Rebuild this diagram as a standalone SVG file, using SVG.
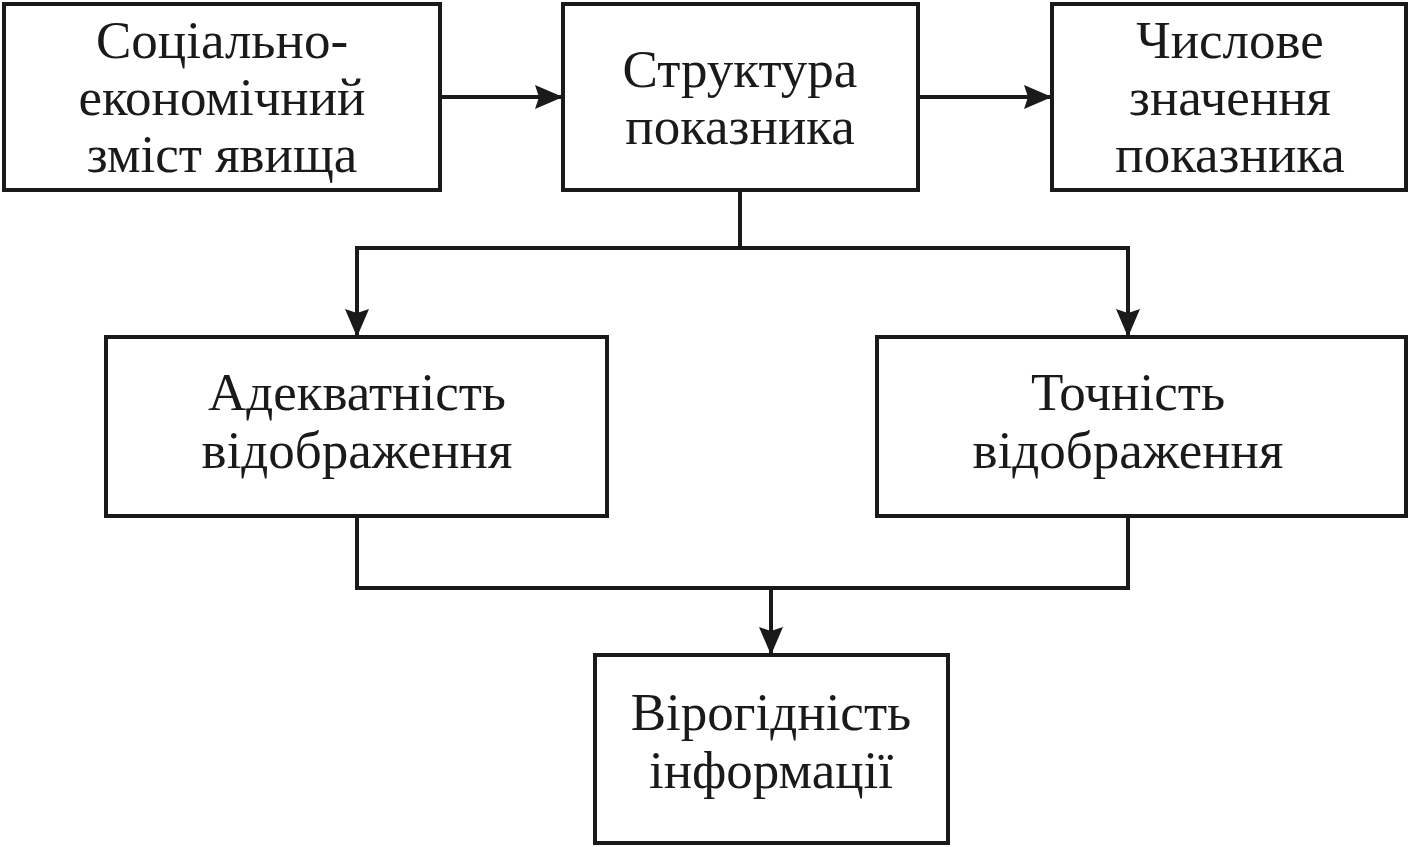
<svg xmlns="http://www.w3.org/2000/svg" width="1410" height="847" viewBox="0 0 1410 847">
<defs>
<marker id="ah" viewBox="0 0 28 24" refX="28" refY="12" markerWidth="28" markerHeight="24" markerUnits="userSpaceOnUse" orient="auto">
<path d="M0,0 L28,12 L0,24 L4,12 Z" fill="#1a1a1a"/>
</marker>
</defs>
<style>
rect{fill:#fff;stroke:#1a1a1a;stroke-width:4}
text{font-family:"Liberation Serif","Times New Roman",serif;font-size:53px;fill:#1a1a1a;text-anchor:middle}
.c path{fill:none;stroke:#1a1a1a;stroke-width:4}
</style>
<rect x="0" y="0" width="1410" height="847" style="stroke:none"/>
<g class="c" id="connectors">
<path d="M440,97 H563" marker-end="url(#ah)"/>
<path d="M918,97 H1052" marker-end="url(#ah)"/>
<path d="M740,190 V248"/>
<path d="M357,337 V248 H1128 V337"/>
<path d="M357,260 V337" marker-end="url(#ah)"/>
<path d="M1128,260 V337" marker-end="url(#ah)"/>
<path d="M357,516 V588 H1128 V516"/>
<path d="M771,588 V655" marker-end="url(#ah)"/>
</g>
<g id="n1"><rect x="4" y="4" width="436" height="186"/><text x="222" y="58">Соціально-</text><text x="222" y="115">економічний</text><text x="222" y="172">зміст явища</text></g>
<g id="n2"><rect x="563" y="4" width="355" height="186"/><text x="740" y="87">Структура</text><text x="740" y="144">показника</text></g>
<g id="n3"><rect x="1052" y="4" width="354" height="186"/><text x="1230" y="58">Числове</text><text x="1230" y="115">значення</text><text x="1230" y="172">показника</text></g>
<g id="n4"><rect x="106" y="337" width="501" height="179"/><text x="357" y="410">Адекватність</text><text x="357" y="468">відображення</text></g>
<g id="n5"><rect x="877" y="337" width="529" height="179"/><text x="1128" y="410">Точність</text><text x="1128" y="468">відображення</text></g>
<g id="n6"><rect x="595" y="655" width="353" height="188"/><text x="771" y="730">Вірогідність</text><text x="771" y="788">інформації</text></g>
</svg>
